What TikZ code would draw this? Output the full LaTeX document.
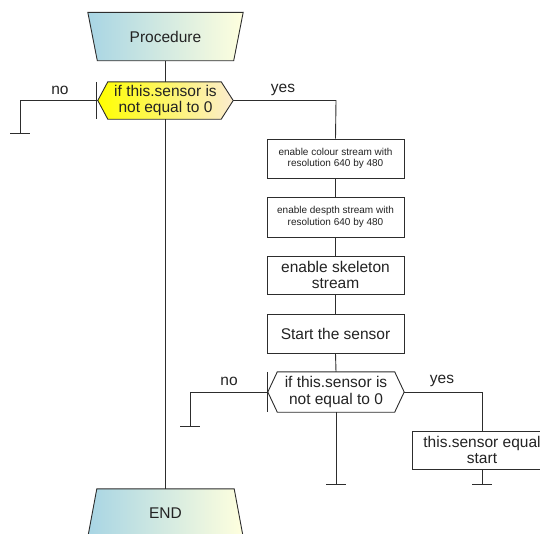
\documentclass[tikz,border=0pt]{standalone}
\usepackage{fontspec}
\setmainfont{Liberation Sans}
\usetikzlibrary{backgrounds}

\definecolor{ink}{RGB}{35,35,35}
\definecolor{linec}{RGB}{45,45,45}
\definecolor{termleft}{RGB}{168,213,228}
\definecolor{termright}{RGB}{255,255,222}
\definecolor{decleft}{RGB}{255,255,0}
\definecolor{decright}{RGB}{252,236,208}

\tikzset{
  flow/.style={draw=linec, line width=0.9pt},
  bigtxt/.style={font=\fontsize{15.5}{16.5}\selectfont, text=ink, align=center},
  smalltxt/.style={font=\fontsize{10}{11.5}\selectfont, text=ink, align=center},
  holder/.style={inner sep=0pt, draw=none},
  stepbox/.style={draw=linec, line width=0.9pt, fill=white, minimum width=137pt,
                  inner sep=0pt},
  lbl/.style={font=\fontsize{15.5}{17}\selectfont, text=ink, inner sep=0pt},
}

\begin{document}
\begin{tikzpicture}[x=1pt, y=-1pt]
  \useasboundingbox (0,0) rectangle (540,533);
  \clip (0,0) rectangle (540,533);

  % terminators and decisions (shapes drawn on the background layer)
  \node[holder, bigtxt, minimum width=155pt, minimum height=48pt] (proc) at (165.5,36.5) {Procedure};
  \node[holder, bigtxt, minimum width=135pt, minimum height=37pt] (dec1) at (165.5,100.5) {if this.sensor is\\not equal to 0};
  \node[holder, bigtxt, minimum width=136pt, minimum height=40pt] (dec2) at (336,392) {if this.sensor is\\not equal to 0};
  \node[holder, bigtxt, minimum width=137pt, minimum height=48pt] (endn) at (165.5,513) {END};

  % process steps
  \node[stepbox, smalltxt, minimum height=39pt] (s1) at (335.5,158.5) {enable colour stream with\\resolution 640 by 480};
  \node[stepbox, smalltxt, minimum height=40pt] (s2) at (335.5,217) {enable despth stream with\\resolution 640 by 480};
  \node[stepbox, bigtxt, minimum height=38pt] (s3) at (335.5,275) {enable skeleton\\stream};
  \node[stepbox, bigtxt, minimum height=39pt] (s4) at (335.5,333.5) {Start the sensor};
  \node[stepbox, bigtxt, minimum width=140pt, minimum height=38pt] (s5) at (482,450) {this.sensor equal\\start};

  \begin{pgfonlayer}{background}
    \path[flow, left color=termleft, right color=termright]
      (proc.north west) -- (proc.north east) -- ([xshift=-9.5pt]proc.south east)
      -- ([xshift=9.5pt]proc.south west) -- cycle;
    \path[flow, left color=termleft, right color=termright]
      (endn.north west) -- (endn.north east) -- ([xshift=9pt]endn.south east)
      -- ([xshift=-9pt]endn.south west) -- cycle;
    \path[flow, left color=decleft, right color=decright]
      (dec1.west) -- ([xshift=10pt]dec1.north west) -- ([xshift=-12pt]dec1.north east)
      -- (dec1.east) -- ([xshift=-12pt]dec1.south east) -- ([xshift=10pt]dec1.south west) -- cycle;
    \path[flow, fill=white]
      (dec2.west) -- ([xshift=9.5pt]dec2.north west) -- ([xshift=-9.5pt]dec2.north east)
      -- (dec2.east) -- ([xshift=-9.5pt]dec2.south east) -- ([xshift=9.5pt]dec2.south west) -- cycle;
  \end{pgfonlayer}

  % side bars at the decision tips
  \draw[flow] ([xshift=-1pt]dec1.north west) -- ([xshift=-1pt]dec1.south west);
  \draw[flow] (dec2.north west) -- (dec2.south west);

  % branch end points
  \coordinate (stopA) at (20,133);
  \coordinate (stopB) at (190,426);
  \coordinate (stopC) at (336,484);
  \coordinate (stopD) at (482,484);
  \coordinate (turnA) at (336,100.5);
  \coordinate (turnB) at (482,392);

  % connectors
  \draw[flow] (proc.south) -- (dec1.north);
  \draw[flow] (dec1.south) -- (endn.north);
  \draw[flow] (dec1.west) -| (stopA);
  \draw[flow] (dec1.east) -- (turnA) -- (s1.north);
  \draw[flow] (s1) -- (s2);
  \draw[flow] (s2) -- (s3);
  \draw[flow] (s3) -- (s4);
  \draw[flow] (s4.south) -- (dec2.north);
  \draw[flow] (dec2.west) -| (stopB);
  \draw[flow] (dec2.east) -- (turnB) -- (s5.north);
  \draw[flow] (dec2.south) -- (stopC);
  \draw[flow] (s5.south) -- (stopD);

  % terminal bars
  \foreach \s in {stopA,stopB,stopC,stopD}
    \draw[flow] ([xshift=-10pt]\s) -- ([xshift=10pt]\s);

  % branch labels
  \node[lbl] (noA) at (60,90) {no};
  \node[lbl] (yesA) at (283,90) {yes};
  \node[lbl] (noB) at (229,381) {no};
  \node[lbl] (yesB) at (442,381) {yes};
\end{tikzpicture}
\end{document}
